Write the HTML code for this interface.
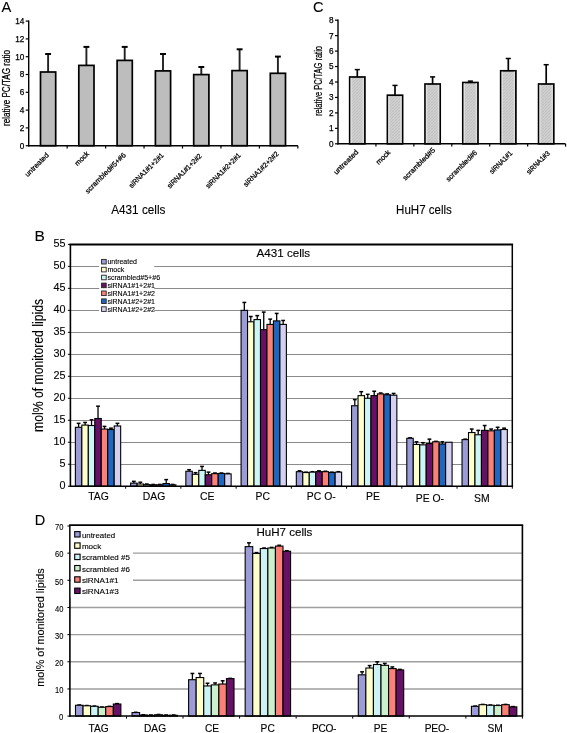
<!DOCTYPE html>
<html><head><meta charset="utf-8"><style>
html,body{margin:0;padding:0;background:#fff;}
svg{display:block;will-change:transform;}
text{font-family:"Liberation Sans", sans-serif;fill:#000;}
</style></head><body>
<svg width="567" height="733" viewBox="0 0 567 733">
<defs><pattern id="hatch" patternUnits="userSpaceOnUse" width="3" height="3"><rect width="3" height="3" fill="#cfcfcf"/><path d="M0,3 L3,0 M-1,1 L1,-1 M2,4 L4,2" stroke="#bcbcbc" stroke-width="0.7"/><path d="M0,0 L3,3 M-1,2 L1,4 M2,-1 L4,1" stroke="#c4c4c4" stroke-width="0.5"/></pattern></defs>
<rect x="0" y="0" width="567" height="733" fill="#fff"/>
<text x="1.6" y="11.8" font-size="14.7" text-anchor="start" stroke="#000" stroke-width="0.1">A</text>
<line x1="48.1" y1="72" x2="48.1" y2="53.7" stroke="#222" stroke-width="1.9"/>
<line x1="45.15" y1="54" x2="51.05" y2="54" stroke="#000" stroke-width="2"/>
<rect x="40.5" y="72" width="15.2" height="73.7" fill="#bdbdbd" stroke="#000" stroke-width="1.7"/>
<line x1="86.4" y1="65.4" x2="86.4" y2="46.6" stroke="#222" stroke-width="1.9"/>
<line x1="83.45" y1="46.9" x2="89.35" y2="46.9" stroke="#000" stroke-width="2"/>
<rect x="78.8" y="65.4" width="15.2" height="80.3" fill="#bdbdbd" stroke="#000" stroke-width="1.7"/>
<line x1="124.7" y1="60.4" x2="124.7" y2="46.6" stroke="#222" stroke-width="1.9"/>
<line x1="121.75" y1="46.9" x2="127.65" y2="46.9" stroke="#000" stroke-width="2"/>
<rect x="117.1" y="60.4" width="15.2" height="85.3" fill="#bdbdbd" stroke="#000" stroke-width="1.7"/>
<line x1="163" y1="70.9" x2="163" y2="53.7" stroke="#222" stroke-width="1.9"/>
<line x1="160.05" y1="54" x2="165.95" y2="54" stroke="#000" stroke-width="2"/>
<rect x="155.4" y="70.9" width="15.2" height="74.8" fill="#bdbdbd" stroke="#000" stroke-width="1.7"/>
<line x1="201.3" y1="74.6" x2="201.3" y2="66.7" stroke="#222" stroke-width="1.9"/>
<line x1="198.35" y1="67" x2="204.25" y2="67" stroke="#000" stroke-width="2"/>
<rect x="193.7" y="74.6" width="15.2" height="71.1" fill="#bdbdbd" stroke="#000" stroke-width="1.7"/>
<line x1="239.6" y1="70.6" x2="239.6" y2="49" stroke="#222" stroke-width="1.9"/>
<line x1="236.65" y1="49.3" x2="242.55" y2="49.3" stroke="#000" stroke-width="2"/>
<rect x="232" y="70.6" width="15.2" height="75.1" fill="#bdbdbd" stroke="#000" stroke-width="1.7"/>
<line x1="277.9" y1="73.3" x2="277.9" y2="56.3" stroke="#222" stroke-width="1.9"/>
<line x1="274.95" y1="56.6" x2="280.85" y2="56.6" stroke="#000" stroke-width="2"/>
<rect x="270.3" y="73.3" width="15.2" height="72.4" fill="#bdbdbd" stroke="#000" stroke-width="1.7"/>
<line x1="28.7" y1="20.5" x2="28.7" y2="146.5" stroke="#000" stroke-width="1.4"/>
<line x1="28" y1="145.7" x2="297.9" y2="145.7" stroke="#000" stroke-width="1.5"/>
<line x1="25.7" y1="145.7" x2="28.7" y2="145.7" stroke="#000" stroke-width="1.2"/>
<text x="24.4" y="148.6" font-size="8.2" text-anchor="end" stroke="#000" stroke-width="0.25">0</text>
<line x1="25.7" y1="127.9" x2="28.7" y2="127.9" stroke="#000" stroke-width="1.2"/>
<text x="24.4" y="130.8" font-size="8.2" text-anchor="end" stroke="#000" stroke-width="0.25">2</text>
<line x1="25.7" y1="110.1" x2="28.7" y2="110.1" stroke="#000" stroke-width="1.2"/>
<text x="24.4" y="113" font-size="8.2" text-anchor="end" stroke="#000" stroke-width="0.25">4</text>
<line x1="25.7" y1="92.3" x2="28.7" y2="92.3" stroke="#000" stroke-width="1.2"/>
<text x="24.4" y="95.2" font-size="8.2" text-anchor="end" stroke="#000" stroke-width="0.25">6</text>
<line x1="25.7" y1="74.5" x2="28.7" y2="74.5" stroke="#000" stroke-width="1.2"/>
<text x="24.4" y="77.4" font-size="8.2" text-anchor="end" stroke="#000" stroke-width="0.25">8</text>
<line x1="25.7" y1="56.7" x2="28.7" y2="56.7" stroke="#000" stroke-width="1.2"/>
<text x="24.4" y="59.6" font-size="8.2" text-anchor="end" stroke="#000" stroke-width="0.25">10</text>
<line x1="25.7" y1="38.9" x2="28.7" y2="38.9" stroke="#000" stroke-width="1.2"/>
<text x="24.4" y="41.8" font-size="8.2" text-anchor="end" stroke="#000" stroke-width="0.25">12</text>
<line x1="25.7" y1="21.1" x2="28.7" y2="21.1" stroke="#000" stroke-width="1.2"/>
<text x="24.4" y="24" font-size="8.2" text-anchor="end" stroke="#000" stroke-width="0.25">14</text>
<line x1="67.15" y1="145.7" x2="67.15" y2="148.5" stroke="#000" stroke-width="1.2"/>
<line x1="105.6" y1="145.7" x2="105.6" y2="148.5" stroke="#000" stroke-width="1.2"/>
<line x1="144.05" y1="145.7" x2="144.05" y2="148.5" stroke="#000" stroke-width="1.2"/>
<line x1="182.5" y1="145.7" x2="182.5" y2="148.5" stroke="#000" stroke-width="1.2"/>
<line x1="220.95" y1="145.7" x2="220.95" y2="148.5" stroke="#000" stroke-width="1.2"/>
<line x1="259.4" y1="145.7" x2="259.4" y2="148.5" stroke="#000" stroke-width="1.2"/>
<line x1="297.85" y1="145.7" x2="297.85" y2="148.5" stroke="#000" stroke-width="1.2"/>
<text transform="translate(49.25,155.75) rotate(-45)" font-size="7.2" text-anchor="end" textLength="30.48" lengthAdjust="spacingAndGlyphs" stroke="#000" stroke-width="0.25">untreated</text>
<text transform="translate(89.5,154.25) rotate(-45)" font-size="7.2" text-anchor="end" textLength="17.05" lengthAdjust="spacingAndGlyphs" stroke="#000" stroke-width="0.25">mock</text>
<text transform="translate(126.35,155.5) rotate(-45)" font-size="7.2" text-anchor="end" textLength="54.3" lengthAdjust="spacingAndGlyphs" stroke="#000" stroke-width="0.25">scrambled#5+#6</text>
<text transform="translate(164.25,155.85) rotate(-45)" font-size="7.2" text-anchor="end" textLength="46.12" lengthAdjust="spacingAndGlyphs" stroke="#000" stroke-width="0.25">siRNA1#1+2#1</text>
<text transform="translate(202.25,156.5) rotate(-45)" font-size="7.2" text-anchor="end" textLength="45.7" lengthAdjust="spacingAndGlyphs" stroke="#000" stroke-width="0.25">siRNA1#1+2#2</text>
<text transform="translate(241.3,155.85) rotate(-45)" font-size="7.2" text-anchor="end" textLength="46.46" lengthAdjust="spacingAndGlyphs" stroke="#000" stroke-width="0.25">siRNA1#2+2#1</text>
<text transform="translate(279.15,154.3) rotate(-45)" font-size="7.2" text-anchor="end" textLength="46.69" lengthAdjust="spacingAndGlyphs" stroke="#000" stroke-width="0.25">siRNA1#2+2#2</text>
<text transform="translate(9.6,88) rotate(-90)" font-size="10" text-anchor="middle" textLength="76" lengthAdjust="spacingAndGlyphs" stroke="#000" stroke-width="0.25">relative PC/TAG ratio</text>
<text x="111.2" y="214" font-size="11.9" text-anchor="start" textLength="54.2" lengthAdjust="spacingAndGlyphs" stroke="#000" stroke-width="0.1">A431 cells</text>
<text x="313" y="11.6" font-size="14.6" text-anchor="start" stroke="#000" stroke-width="0.1">C</text>
<line x1="357.3" y1="77" x2="357.3" y2="69.5" stroke="#000" stroke-width="1.7"/>
<line x1="354.75" y1="69.6" x2="359.85" y2="69.6" stroke="#000" stroke-width="1.5"/>
<rect x="349.7" y="77" width="15.2" height="66.8" fill="url(#hatch)" stroke="#000" stroke-width="1.7"/>
<rect x="350.55" y="77.85" width="1.3" height="65.95" fill="#e0e0e0"/>
<rect x="362.6" y="77.85" width="1.3" height="65.95" fill="#dedede"/>
<line x1="395" y1="95.2" x2="395" y2="85.3" stroke="#000" stroke-width="1.7"/>
<line x1="392.45" y1="85.4" x2="397.55" y2="85.4" stroke="#000" stroke-width="1.5"/>
<rect x="387.4" y="95.2" width="15.2" height="48.6" fill="url(#hatch)" stroke="#000" stroke-width="1.7"/>
<rect x="388.25" y="96.05" width="1.3" height="47.75" fill="#e0e0e0"/>
<rect x="400.3" y="96.05" width="1.3" height="47.75" fill="#dedede"/>
<line x1="432.6" y1="84" x2="432.6" y2="76.8" stroke="#000" stroke-width="1.7"/>
<line x1="430.05" y1="76.9" x2="435.15" y2="76.9" stroke="#000" stroke-width="1.5"/>
<rect x="425" y="84" width="15.2" height="59.8" fill="url(#hatch)" stroke="#000" stroke-width="1.7"/>
<rect x="425.85" y="84.85" width="1.3" height="58.95" fill="#e0e0e0"/>
<rect x="437.9" y="84.85" width="1.3" height="58.95" fill="#dedede"/>
<line x1="470.4" y1="82.5" x2="470.4" y2="81" stroke="#000" stroke-width="1.7"/>
<line x1="467.85" y1="81.1" x2="472.95" y2="81.1" stroke="#000" stroke-width="1.5"/>
<rect x="462.8" y="82.5" width="15.2" height="61.3" fill="url(#hatch)" stroke="#000" stroke-width="1.7"/>
<rect x="463.65" y="83.35" width="1.3" height="60.45" fill="#e0e0e0"/>
<rect x="475.7" y="83.35" width="1.3" height="60.45" fill="#dedede"/>
<line x1="508.3" y1="70.8" x2="508.3" y2="58.4" stroke="#000" stroke-width="1.7"/>
<line x1="505.75" y1="58.5" x2="510.85" y2="58.5" stroke="#000" stroke-width="1.5"/>
<rect x="500.7" y="70.8" width="15.2" height="73" fill="url(#hatch)" stroke="#000" stroke-width="1.7"/>
<rect x="501.55" y="71.65" width="1.3" height="72.15" fill="#e0e0e0"/>
<rect x="513.6" y="71.65" width="1.3" height="72.15" fill="#dedede"/>
<line x1="546.2" y1="84" x2="546.2" y2="64.6" stroke="#000" stroke-width="1.7"/>
<line x1="543.65" y1="64.7" x2="548.75" y2="64.7" stroke="#000" stroke-width="1.5"/>
<rect x="538.6" y="84" width="15.2" height="59.8" fill="url(#hatch)" stroke="#000" stroke-width="1.7"/>
<rect x="539.45" y="84.85" width="1.3" height="58.95" fill="#e0e0e0"/>
<rect x="551.5" y="84.85" width="1.3" height="58.95" fill="#dedede"/>
<line x1="338" y1="19.6" x2="338" y2="144.6" stroke="#000" stroke-width="1.4"/>
<line x1="337.3" y1="143.8" x2="565.5" y2="143.8" stroke="#000" stroke-width="1.5"/>
<line x1="335" y1="143.8" x2="338" y2="143.8" stroke="#000" stroke-width="1.2"/>
<text x="333.6" y="146.7" font-size="8.2" text-anchor="end" stroke="#000" stroke-width="0.25">0</text>
<line x1="335" y1="128.35" x2="338" y2="128.35" stroke="#000" stroke-width="1.2"/>
<text x="333.6" y="131.25" font-size="8.2" text-anchor="end" stroke="#000" stroke-width="0.25">1</text>
<line x1="335" y1="112.9" x2="338" y2="112.9" stroke="#000" stroke-width="1.2"/>
<text x="333.6" y="115.8" font-size="8.2" text-anchor="end" stroke="#000" stroke-width="0.25">2</text>
<line x1="335" y1="97.45" x2="338" y2="97.45" stroke="#000" stroke-width="1.2"/>
<text x="333.6" y="100.35" font-size="8.2" text-anchor="end" stroke="#000" stroke-width="0.25">3</text>
<line x1="335" y1="82" x2="338" y2="82" stroke="#000" stroke-width="1.2"/>
<text x="333.6" y="84.9" font-size="8.2" text-anchor="end" stroke="#000" stroke-width="0.25">4</text>
<line x1="335" y1="66.55" x2="338" y2="66.55" stroke="#000" stroke-width="1.2"/>
<text x="333.6" y="69.45" font-size="8.2" text-anchor="end" stroke="#000" stroke-width="0.25">5</text>
<line x1="335" y1="51.1" x2="338" y2="51.1" stroke="#000" stroke-width="1.2"/>
<text x="333.6" y="54" font-size="8.2" text-anchor="end" stroke="#000" stroke-width="0.25">6</text>
<line x1="335" y1="35.65" x2="338" y2="35.65" stroke="#000" stroke-width="1.2"/>
<text x="333.6" y="38.55" font-size="8.2" text-anchor="end" stroke="#000" stroke-width="0.25">7</text>
<line x1="335" y1="20.2" x2="338" y2="20.2" stroke="#000" stroke-width="1.2"/>
<text x="333.6" y="23.1" font-size="8.2" text-anchor="end" stroke="#000" stroke-width="0.25">8</text>
<line x1="375.93" y1="143.8" x2="375.93" y2="146.6" stroke="#000" stroke-width="1.2"/>
<line x1="413.86" y1="143.8" x2="413.86" y2="146.6" stroke="#000" stroke-width="1.2"/>
<line x1="451.79" y1="143.8" x2="451.79" y2="146.6" stroke="#000" stroke-width="1.2"/>
<line x1="489.72" y1="143.8" x2="489.72" y2="146.6" stroke="#000" stroke-width="1.2"/>
<line x1="527.65" y1="143.8" x2="527.65" y2="146.6" stroke="#000" stroke-width="1.2"/>
<line x1="565.58" y1="143.8" x2="565.58" y2="146.6" stroke="#000" stroke-width="1.2"/>
<text transform="translate(358.8,152.65) rotate(-45)" font-size="7.2" text-anchor="end" textLength="31.71" lengthAdjust="spacingAndGlyphs" stroke="#000" stroke-width="0.25">untreated</text>
<text transform="translate(390.9,152.85) rotate(-45)" font-size="7.2" text-anchor="end" textLength="17.34" lengthAdjust="spacingAndGlyphs" stroke="#000" stroke-width="0.25">mock</text>
<text transform="translate(435.65,150.65) rotate(-45)" font-size="7.2" text-anchor="end" textLength="42.61" lengthAdjust="spacingAndGlyphs" stroke="#000" stroke-width="0.25">scrambled#5</text>
<text transform="translate(477.55,153.2) rotate(-45)" font-size="7.2" text-anchor="end" textLength="40.86" lengthAdjust="spacingAndGlyphs" stroke="#000" stroke-width="0.25">scrambled#6</text>
<text transform="translate(512.85,153.8) rotate(-45)" font-size="7.2" text-anchor="end" textLength="29" lengthAdjust="spacingAndGlyphs" stroke="#000" stroke-width="0.25">siRNA1#1</text>
<text transform="translate(550.25,153.8) rotate(-45)" font-size="7.2" text-anchor="end" textLength="29.67" lengthAdjust="spacingAndGlyphs" stroke="#000" stroke-width="0.25">siRNA1#3</text>
<text transform="translate(321.7,81) rotate(-90)" font-size="10.5" text-anchor="middle" textLength="70" lengthAdjust="spacingAndGlyphs" stroke="#000" stroke-width="0.25">relative PC/TAG ratio</text>
<text x="396.1" y="214" font-size="11.9" text-anchor="start" textLength="55.8" lengthAdjust="spacingAndGlyphs" stroke="#000" stroke-width="0.1">HuH7 cells</text>
<text x="34.4" y="240.5" font-size="15.5" text-anchor="start" stroke="#000" stroke-width="0.1">B</text>
<line x1="70.4" y1="464.5" x2="512.3" y2="464.5" stroke="#8a8a8a" stroke-width="1"/>
<line x1="70.4" y1="442.5" x2="512.3" y2="442.5" stroke="#8a8a8a" stroke-width="1"/>
<line x1="70.4" y1="420.5" x2="512.3" y2="420.5" stroke="#8a8a8a" stroke-width="1"/>
<line x1="70.4" y1="398.5" x2="512.3" y2="398.5" stroke="#8a8a8a" stroke-width="1"/>
<line x1="70.4" y1="376.5" x2="512.3" y2="376.5" stroke="#8a8a8a" stroke-width="1"/>
<line x1="70.4" y1="354.5" x2="512.3" y2="354.5" stroke="#8a8a8a" stroke-width="1"/>
<line x1="70.4" y1="332.5" x2="512.3" y2="332.5" stroke="#8a8a8a" stroke-width="1"/>
<line x1="70.4" y1="310.5" x2="512.3" y2="310.5" stroke="#8a8a8a" stroke-width="1"/>
<line x1="70.4" y1="288.5" x2="512.3" y2="288.5" stroke="#8a8a8a" stroke-width="1"/>
<line x1="70.4" y1="266.5" x2="512.3" y2="266.5" stroke="#8a8a8a" stroke-width="1"/>
<line x1="78.6" y1="427.29" x2="78.6" y2="423.33" stroke="#000" stroke-width="1.3"/>
<line x1="76.7" y1="423.33" x2="80.5" y2="423.33" stroke="#000" stroke-width="1.5"/>
<rect x="75.37" y="427.29" width="6.47" height="58.91" fill="#9b9bd8" stroke="#000" stroke-width="1.1"/>
<line x1="85.08" y1="425.09" x2="85.08" y2="422.45" stroke="#000" stroke-width="1.3"/>
<line x1="83.18" y1="422.45" x2="86.98" y2="422.45" stroke="#000" stroke-width="1.5"/>
<rect x="81.84" y="425.09" width="6.47" height="61.11" fill="#ffffcc" stroke="#000" stroke-width="1.1"/>
<line x1="91.55" y1="425.53" x2="91.55" y2="419.81" stroke="#000" stroke-width="1.3"/>
<line x1="89.65" y1="419.81" x2="93.45" y2="419.81" stroke="#000" stroke-width="1.5"/>
<rect x="88.31" y="425.53" width="6.47" height="60.67" fill="#ccf6f6" stroke="#000" stroke-width="1.1"/>
<line x1="98.02" y1="418.5" x2="98.02" y2="406.19" stroke="#000" stroke-width="1.3"/>
<line x1="96.12" y1="406.19" x2="99.92" y2="406.19" stroke="#000" stroke-width="1.5"/>
<rect x="94.78" y="418.5" width="6.47" height="67.7" fill="#661166" stroke="#000" stroke-width="1.1"/>
<line x1="104.49" y1="429.05" x2="104.49" y2="426.41" stroke="#000" stroke-width="1.3"/>
<line x1="102.59" y1="426.41" x2="106.39" y2="426.41" stroke="#000" stroke-width="1.5"/>
<rect x="101.25" y="429.05" width="6.47" height="57.15" fill="#fa8078" stroke="#000" stroke-width="1.1"/>
<line x1="110.96" y1="429.49" x2="110.96" y2="428.17" stroke="#000" stroke-width="1.3"/>
<line x1="109.06" y1="428.17" x2="112.86" y2="428.17" stroke="#000" stroke-width="1.5"/>
<rect x="107.73" y="429.49" width="6.47" height="56.71" fill="#1f66c0" stroke="#000" stroke-width="1.1"/>
<line x1="117.43" y1="425.97" x2="117.43" y2="423.33" stroke="#000" stroke-width="1.3"/>
<line x1="115.53" y1="423.33" x2="119.33" y2="423.33" stroke="#000" stroke-width="1.5"/>
<rect x="114.2" y="425.97" width="6.47" height="60.23" fill="#d4d0f0" stroke="#000" stroke-width="1.1"/>
<line x1="133.84" y1="483.12" x2="133.84" y2="481.36" stroke="#000" stroke-width="1.3"/>
<line x1="131.94" y1="481.36" x2="135.74" y2="481.36" stroke="#000" stroke-width="1.5"/>
<rect x="130.61" y="483.12" width="6.47" height="3.08" fill="#9b9bd8" stroke="#000" stroke-width="1.1"/>
<line x1="140.31" y1="484" x2="140.31" y2="482.24" stroke="#000" stroke-width="1.3"/>
<line x1="138.41" y1="482.24" x2="142.21" y2="482.24" stroke="#000" stroke-width="1.5"/>
<rect x="137.08" y="484" width="6.47" height="2.2" fill="#ffffcc" stroke="#000" stroke-width="1.1"/>
<line x1="146.78" y1="484.66" x2="146.78" y2="484" stroke="#000" stroke-width="1.3"/>
<line x1="144.88" y1="484" x2="148.68" y2="484" stroke="#000" stroke-width="1.5"/>
<rect x="143.55" y="484.66" width="6.47" height="1.54" fill="#ccf6f6" stroke="#000" stroke-width="1.1"/>
<line x1="153.26" y1="484.88" x2="153.26" y2="484.44" stroke="#000" stroke-width="1.3"/>
<line x1="151.36" y1="484.44" x2="155.16" y2="484.44" stroke="#000" stroke-width="1.5"/>
<rect x="150.02" y="484.88" width="6.47" height="1.32" fill="#661166" stroke="#000" stroke-width="1.1"/>
<line x1="159.73" y1="484.88" x2="159.73" y2="484.44" stroke="#000" stroke-width="1.3"/>
<line x1="157.83" y1="484.44" x2="161.63" y2="484.44" stroke="#000" stroke-width="1.5"/>
<rect x="156.49" y="484.88" width="6.47" height="1.32" fill="#fa8078" stroke="#000" stroke-width="1.1"/>
<line x1="166.2" y1="483.56" x2="166.2" y2="479.61" stroke="#000" stroke-width="1.3"/>
<line x1="164.3" y1="479.61" x2="168.1" y2="479.61" stroke="#000" stroke-width="1.5"/>
<rect x="162.96" y="483.56" width="6.47" height="2.64" fill="#1f66c0" stroke="#000" stroke-width="1.1"/>
<line x1="172.67" y1="484.88" x2="172.67" y2="484.44" stroke="#000" stroke-width="1.3"/>
<line x1="170.77" y1="484.44" x2="174.57" y2="484.44" stroke="#000" stroke-width="1.5"/>
<rect x="169.43" y="484.88" width="6.47" height="1.32" fill="#d4d0f0" stroke="#000" stroke-width="1.1"/>
<line x1="189.08" y1="471.25" x2="189.08" y2="469.71" stroke="#000" stroke-width="1.3"/>
<line x1="187.18" y1="469.71" x2="190.98" y2="469.71" stroke="#000" stroke-width="1.5"/>
<rect x="185.84" y="471.25" width="6.47" height="14.95" fill="#9b9bd8" stroke="#000" stroke-width="1.1"/>
<line x1="195.55" y1="474.33" x2="195.55" y2="472.7" stroke="#000" stroke-width="1.3"/>
<line x1="193.65" y1="472.7" x2="197.45" y2="472.7" stroke="#000" stroke-width="1.5"/>
<rect x="192.32" y="474.33" width="6.47" height="11.87" fill="#ffffcc" stroke="#000" stroke-width="1.1"/>
<line x1="202.02" y1="470.37" x2="202.02" y2="466.42" stroke="#000" stroke-width="1.3"/>
<line x1="200.12" y1="466.42" x2="203.92" y2="466.42" stroke="#000" stroke-width="1.5"/>
<rect x="198.79" y="470.37" width="6.47" height="15.83" fill="#ccf6f6" stroke="#000" stroke-width="1.1"/>
<line x1="208.49" y1="474.77" x2="208.49" y2="472.13" stroke="#000" stroke-width="1.3"/>
<line x1="206.59" y1="472.13" x2="210.39" y2="472.13" stroke="#000" stroke-width="1.5"/>
<rect x="205.26" y="474.77" width="6.47" height="11.43" fill="#661166" stroke="#000" stroke-width="1.1"/>
<line x1="214.97" y1="473.67" x2="214.97" y2="473.01" stroke="#000" stroke-width="1.3"/>
<line x1="213.07" y1="473.01" x2="216.87" y2="473.01" stroke="#000" stroke-width="1.5"/>
<rect x="211.73" y="473.67" width="6.47" height="12.53" fill="#fa8078" stroke="#000" stroke-width="1.1"/>
<line x1="221.44" y1="473.45" x2="221.44" y2="473.01" stroke="#000" stroke-width="1.3"/>
<line x1="219.54" y1="473.01" x2="223.34" y2="473.01" stroke="#000" stroke-width="1.5"/>
<rect x="218.2" y="473.45" width="6.47" height="12.75" fill="#1f66c0" stroke="#000" stroke-width="1.1"/>
<line x1="227.91" y1="473.89" x2="227.91" y2="473.45" stroke="#000" stroke-width="1.3"/>
<line x1="226.01" y1="473.45" x2="229.81" y2="473.45" stroke="#000" stroke-width="1.5"/>
<rect x="224.67" y="473.89" width="6.47" height="12.31" fill="#d4d0f0" stroke="#000" stroke-width="1.1"/>
<line x1="244.32" y1="310.35" x2="244.32" y2="302.43" stroke="#000" stroke-width="1.3"/>
<line x1="242.42" y1="302.43" x2="246.22" y2="302.43" stroke="#000" stroke-width="1.5"/>
<rect x="241.08" y="310.35" width="6.47" height="175.85" fill="#9b9bd8" stroke="#000" stroke-width="1.1"/>
<line x1="250.79" y1="321.78" x2="250.79" y2="316.5" stroke="#000" stroke-width="1.3"/>
<line x1="248.89" y1="316.5" x2="252.69" y2="316.5" stroke="#000" stroke-width="1.5"/>
<rect x="247.55" y="321.78" width="6.47" height="164.42" fill="#ffffcc" stroke="#000" stroke-width="1.1"/>
<line x1="257.26" y1="319.58" x2="257.26" y2="315.62" stroke="#000" stroke-width="1.3"/>
<line x1="255.36" y1="315.62" x2="259.16" y2="315.62" stroke="#000" stroke-width="1.5"/>
<rect x="254.02" y="319.58" width="6.47" height="166.62" fill="#ccf6f6" stroke="#000" stroke-width="1.1"/>
<line x1="263.73" y1="329.69" x2="263.73" y2="312.1" stroke="#000" stroke-width="1.3"/>
<line x1="261.83" y1="312.1" x2="265.63" y2="312.1" stroke="#000" stroke-width="1.5"/>
<rect x="260.5" y="329.69" width="6.47" height="156.51" fill="#661166" stroke="#000" stroke-width="1.1"/>
<line x1="270.2" y1="324.41" x2="270.2" y2="319.14" stroke="#000" stroke-width="1.3"/>
<line x1="268.3" y1="319.14" x2="272.1" y2="319.14" stroke="#000" stroke-width="1.5"/>
<rect x="266.97" y="324.41" width="6.47" height="161.79" fill="#fa8078" stroke="#000" stroke-width="1.1"/>
<line x1="276.67" y1="320.9" x2="276.67" y2="313.42" stroke="#000" stroke-width="1.3"/>
<line x1="274.77" y1="313.42" x2="278.57" y2="313.42" stroke="#000" stroke-width="1.5"/>
<rect x="273.44" y="320.9" width="6.47" height="165.3" fill="#1f66c0" stroke="#000" stroke-width="1.1"/>
<line x1="283.15" y1="324.41" x2="283.15" y2="320.46" stroke="#000" stroke-width="1.3"/>
<line x1="281.25" y1="320.46" x2="285.05" y2="320.46" stroke="#000" stroke-width="1.5"/>
<rect x="279.91" y="324.41" width="6.47" height="161.79" fill="#d4d0f0" stroke="#000" stroke-width="1.1"/>
<line x1="299.55" y1="471.69" x2="299.55" y2="470.81" stroke="#000" stroke-width="1.3"/>
<line x1="297.65" y1="470.81" x2="301.45" y2="470.81" stroke="#000" stroke-width="1.5"/>
<rect x="296.32" y="471.69" width="6.47" height="14.51" fill="#9b9bd8" stroke="#000" stroke-width="1.1"/>
<line x1="306.03" y1="472.57" x2="306.03" y2="472.13" stroke="#000" stroke-width="1.3"/>
<line x1="304.13" y1="472.13" x2="307.93" y2="472.13" stroke="#000" stroke-width="1.5"/>
<rect x="302.79" y="472.57" width="6.47" height="13.63" fill="#ffffcc" stroke="#000" stroke-width="1.1"/>
<line x1="312.5" y1="472.13" x2="312.5" y2="471.69" stroke="#000" stroke-width="1.3"/>
<line x1="310.6" y1="471.69" x2="314.4" y2="471.69" stroke="#000" stroke-width="1.5"/>
<rect x="309.26" y="472.13" width="6.47" height="14.07" fill="#ccf6f6" stroke="#000" stroke-width="1.1"/>
<line x1="318.97" y1="471.69" x2="318.97" y2="470.81" stroke="#000" stroke-width="1.3"/>
<line x1="317.07" y1="470.81" x2="320.87" y2="470.81" stroke="#000" stroke-width="1.5"/>
<rect x="315.73" y="471.69" width="6.47" height="14.51" fill="#661166" stroke="#000" stroke-width="1.1"/>
<line x1="325.44" y1="471.69" x2="325.44" y2="471.25" stroke="#000" stroke-width="1.3"/>
<line x1="323.54" y1="471.25" x2="327.34" y2="471.25" stroke="#000" stroke-width="1.5"/>
<rect x="322.2" y="471.69" width="6.47" height="14.51" fill="#fa8078" stroke="#000" stroke-width="1.1"/>
<line x1="331.91" y1="472.57" x2="331.91" y2="472.13" stroke="#000" stroke-width="1.3"/>
<line x1="330.01" y1="472.13" x2="333.81" y2="472.13" stroke="#000" stroke-width="1.5"/>
<rect x="328.68" y="472.57" width="6.47" height="13.63" fill="#1f66c0" stroke="#000" stroke-width="1.1"/>
<line x1="338.38" y1="472.13" x2="338.38" y2="471.69" stroke="#000" stroke-width="1.3"/>
<line x1="336.48" y1="471.69" x2="340.28" y2="471.69" stroke="#000" stroke-width="1.5"/>
<rect x="335.15" y="472.13" width="6.47" height="14.07" fill="#d4d0f0" stroke="#000" stroke-width="1.1"/>
<line x1="354.79" y1="405.75" x2="354.79" y2="399.59" stroke="#000" stroke-width="1.3"/>
<line x1="352.89" y1="399.59" x2="356.69" y2="399.59" stroke="#000" stroke-width="1.5"/>
<rect x="351.56" y="405.75" width="6.47" height="80.45" fill="#9b9bd8" stroke="#000" stroke-width="1.1"/>
<line x1="361.26" y1="395.63" x2="361.26" y2="391.68" stroke="#000" stroke-width="1.3"/>
<line x1="359.36" y1="391.68" x2="363.16" y2="391.68" stroke="#000" stroke-width="1.5"/>
<rect x="358.03" y="395.63" width="6.47" height="90.57" fill="#ffffcc" stroke="#000" stroke-width="1.1"/>
<line x1="367.73" y1="398.27" x2="367.73" y2="394.32" stroke="#000" stroke-width="1.3"/>
<line x1="365.83" y1="394.32" x2="369.63" y2="394.32" stroke="#000" stroke-width="1.5"/>
<rect x="364.5" y="398.27" width="6.47" height="87.93" fill="#ccf6f6" stroke="#000" stroke-width="1.1"/>
<line x1="374.21" y1="395.63" x2="374.21" y2="391.24" stroke="#000" stroke-width="1.3"/>
<line x1="372.31" y1="391.24" x2="376.11" y2="391.24" stroke="#000" stroke-width="1.5"/>
<rect x="370.97" y="395.63" width="6.47" height="90.57" fill="#661166" stroke="#000" stroke-width="1.1"/>
<line x1="380.68" y1="393.88" x2="380.68" y2="393" stroke="#000" stroke-width="1.3"/>
<line x1="378.78" y1="393" x2="382.58" y2="393" stroke="#000" stroke-width="1.5"/>
<rect x="377.44" y="393.88" width="6.47" height="92.32" fill="#fa8078" stroke="#000" stroke-width="1.1"/>
<line x1="387.15" y1="394.76" x2="387.15" y2="393.88" stroke="#000" stroke-width="1.3"/>
<line x1="385.25" y1="393.88" x2="389.05" y2="393.88" stroke="#000" stroke-width="1.5"/>
<rect x="383.91" y="394.76" width="6.47" height="91.44" fill="#1f66c0" stroke="#000" stroke-width="1.1"/>
<line x1="393.62" y1="395.2" x2="393.62" y2="393.44" stroke="#000" stroke-width="1.3"/>
<line x1="391.72" y1="393.44" x2="395.52" y2="393.44" stroke="#000" stroke-width="1.5"/>
<rect x="390.38" y="395.2" width="6.47" height="91" fill="#d4d0f0" stroke="#000" stroke-width="1.1"/>
<line x1="410.03" y1="438.28" x2="410.03" y2="437.84" stroke="#000" stroke-width="1.3"/>
<line x1="408.13" y1="437.84" x2="411.93" y2="437.84" stroke="#000" stroke-width="1.5"/>
<rect x="406.79" y="438.28" width="6.47" height="47.92" fill="#9b9bd8" stroke="#000" stroke-width="1.1"/>
<line x1="416.5" y1="444.43" x2="416.5" y2="441.8" stroke="#000" stroke-width="1.3"/>
<line x1="414.6" y1="441.8" x2="418.4" y2="441.8" stroke="#000" stroke-width="1.5"/>
<rect x="413.27" y="444.43" width="6.47" height="41.77" fill="#ffffcc" stroke="#000" stroke-width="1.1"/>
<line x1="422.97" y1="444.87" x2="422.97" y2="442.68" stroke="#000" stroke-width="1.3"/>
<line x1="421.07" y1="442.68" x2="424.87" y2="442.68" stroke="#000" stroke-width="1.5"/>
<rect x="419.74" y="444.87" width="6.47" height="41.33" fill="#ccf6f6" stroke="#000" stroke-width="1.1"/>
<line x1="429.44" y1="443.56" x2="429.44" y2="439.16" stroke="#000" stroke-width="1.3"/>
<line x1="427.54" y1="439.16" x2="431.34" y2="439.16" stroke="#000" stroke-width="1.5"/>
<rect x="426.21" y="443.56" width="6.47" height="42.64" fill="#661166" stroke="#000" stroke-width="1.1"/>
<line x1="435.92" y1="441.8" x2="435.92" y2="441.36" stroke="#000" stroke-width="1.3"/>
<line x1="434.02" y1="441.36" x2="437.82" y2="441.36" stroke="#000" stroke-width="1.5"/>
<rect x="432.68" y="441.8" width="6.47" height="44.4" fill="#fa8078" stroke="#000" stroke-width="1.1"/>
<line x1="442.39" y1="443.99" x2="442.39" y2="441.8" stroke="#000" stroke-width="1.3"/>
<line x1="440.49" y1="441.8" x2="444.29" y2="441.8" stroke="#000" stroke-width="1.5"/>
<rect x="439.15" y="443.99" width="6.47" height="42.21" fill="#1f66c0" stroke="#000" stroke-width="1.1"/>
<rect x="445.62" y="442.24" width="6.47" height="43.96" fill="#d4d0f0" stroke="#000" stroke-width="1.1"/>
<line x1="465.27" y1="439.6" x2="465.27" y2="439.16" stroke="#000" stroke-width="1.3"/>
<line x1="463.37" y1="439.16" x2="467.17" y2="439.16" stroke="#000" stroke-width="1.5"/>
<rect x="462.03" y="439.6" width="6.47" height="46.6" fill="#9b9bd8" stroke="#000" stroke-width="1.1"/>
<line x1="471.74" y1="432.56" x2="471.74" y2="429.05" stroke="#000" stroke-width="1.3"/>
<line x1="469.84" y1="429.05" x2="473.64" y2="429.05" stroke="#000" stroke-width="1.5"/>
<rect x="468.5" y="432.56" width="6.47" height="53.64" fill="#ffffcc" stroke="#000" stroke-width="1.1"/>
<line x1="478.21" y1="434.76" x2="478.21" y2="430.37" stroke="#000" stroke-width="1.3"/>
<line x1="476.31" y1="430.37" x2="480.11" y2="430.37" stroke="#000" stroke-width="1.5"/>
<rect x="474.97" y="434.76" width="6.47" height="51.44" fill="#ccf6f6" stroke="#000" stroke-width="1.1"/>
<line x1="484.68" y1="430.37" x2="484.68" y2="425.53" stroke="#000" stroke-width="1.3"/>
<line x1="482.78" y1="425.53" x2="486.58" y2="425.53" stroke="#000" stroke-width="1.5"/>
<rect x="481.45" y="430.37" width="6.47" height="55.83" fill="#661166" stroke="#000" stroke-width="1.1"/>
<line x1="491.15" y1="430.81" x2="491.15" y2="429.05" stroke="#000" stroke-width="1.3"/>
<line x1="489.25" y1="429.05" x2="493.05" y2="429.05" stroke="#000" stroke-width="1.5"/>
<rect x="487.92" y="430.81" width="6.47" height="55.39" fill="#fa8078" stroke="#000" stroke-width="1.1"/>
<line x1="497.62" y1="429.93" x2="497.62" y2="427.29" stroke="#000" stroke-width="1.3"/>
<line x1="495.72" y1="427.29" x2="499.52" y2="427.29" stroke="#000" stroke-width="1.5"/>
<rect x="494.39" y="429.93" width="6.47" height="56.27" fill="#1f66c0" stroke="#000" stroke-width="1.1"/>
<line x1="504.1" y1="429.49" x2="504.1" y2="428.17" stroke="#000" stroke-width="1.3"/>
<line x1="502.2" y1="428.17" x2="506" y2="428.17" stroke="#000" stroke-width="1.5"/>
<rect x="500.86" y="429.49" width="6.47" height="56.71" fill="#d4d0f0" stroke="#000" stroke-width="1.1"/>
<line x1="70.4" y1="244.4" x2="70.4" y2="487" stroke="#000" stroke-width="1.6"/>
<line x1="69.6" y1="244.4" x2="513.1" y2="244.4" stroke="#000" stroke-width="2"/>
<line x1="512.3" y1="244.4" x2="512.3" y2="486.2" stroke="#000" stroke-width="1.5"/>
<line x1="70.4" y1="486.2" x2="513.1" y2="486.2" stroke="#000" stroke-width="1.5"/>
<line x1="67.9" y1="486.2" x2="70.4" y2="486.2" stroke="#000" stroke-width="1"/>
<text x="65.6" y="489.2" font-size="10.8" text-anchor="end" stroke="#000" stroke-width="0.12">0</text>
<line x1="67.9" y1="464.22" x2="70.4" y2="464.22" stroke="#000" stroke-width="1"/>
<text x="65.6" y="467.22" font-size="10.8" text-anchor="end" stroke="#000" stroke-width="0.12">5</text>
<line x1="67.9" y1="442.24" x2="70.4" y2="442.24" stroke="#000" stroke-width="1"/>
<text x="65.6" y="445.24" font-size="10.8" text-anchor="end" stroke="#000" stroke-width="0.12">10</text>
<line x1="67.9" y1="420.25" x2="70.4" y2="420.25" stroke="#000" stroke-width="1"/>
<text x="65.6" y="423.25" font-size="10.8" text-anchor="end" stroke="#000" stroke-width="0.12">15</text>
<line x1="67.9" y1="398.27" x2="70.4" y2="398.27" stroke="#000" stroke-width="1"/>
<text x="65.6" y="401.27" font-size="10.8" text-anchor="end" stroke="#000" stroke-width="0.12">20</text>
<line x1="67.9" y1="376.29" x2="70.4" y2="376.29" stroke="#000" stroke-width="1"/>
<text x="65.6" y="379.29" font-size="10.8" text-anchor="end" stroke="#000" stroke-width="0.12">25</text>
<line x1="67.9" y1="354.31" x2="70.4" y2="354.31" stroke="#000" stroke-width="1"/>
<text x="65.6" y="357.31" font-size="10.8" text-anchor="end" stroke="#000" stroke-width="0.12">30</text>
<line x1="67.9" y1="332.33" x2="70.4" y2="332.33" stroke="#000" stroke-width="1"/>
<text x="65.6" y="335.33" font-size="10.8" text-anchor="end" stroke="#000" stroke-width="0.12">35</text>
<line x1="67.9" y1="310.35" x2="70.4" y2="310.35" stroke="#000" stroke-width="1"/>
<text x="65.6" y="313.35" font-size="10.8" text-anchor="end" stroke="#000" stroke-width="0.12">40</text>
<line x1="67.9" y1="288.36" x2="70.4" y2="288.36" stroke="#000" stroke-width="1"/>
<text x="65.6" y="291.36" font-size="10.8" text-anchor="end" stroke="#000" stroke-width="0.12">45</text>
<line x1="67.9" y1="266.38" x2="70.4" y2="266.38" stroke="#000" stroke-width="1"/>
<text x="65.6" y="269.38" font-size="10.8" text-anchor="end" stroke="#000" stroke-width="0.12">50</text>
<line x1="67.9" y1="244.4" x2="70.4" y2="244.4" stroke="#000" stroke-width="1"/>
<text x="65.6" y="247.4" font-size="10.8" text-anchor="end" stroke="#000" stroke-width="0.12">55</text>
<line x1="125.64" y1="486.2" x2="125.64" y2="488.7" stroke="#000" stroke-width="1"/>
<line x1="180.88" y1="486.2" x2="180.88" y2="488.7" stroke="#000" stroke-width="1"/>
<line x1="236.11" y1="486.2" x2="236.11" y2="488.7" stroke="#000" stroke-width="1"/>
<line x1="291.35" y1="486.2" x2="291.35" y2="488.7" stroke="#000" stroke-width="1"/>
<line x1="346.59" y1="486.2" x2="346.59" y2="488.7" stroke="#000" stroke-width="1"/>
<line x1="401.82" y1="486.2" x2="401.82" y2="488.7" stroke="#000" stroke-width="1"/>
<line x1="457.06" y1="486.2" x2="457.06" y2="488.7" stroke="#000" stroke-width="1"/>
<line x1="512.3" y1="486.2" x2="512.3" y2="488.7" stroke="#000" stroke-width="1"/>
<text x="98.5" y="499.7" font-size="10.4" text-anchor="middle" stroke="#000" stroke-width="0.12">TAG</text>
<text x="154" y="499.7" font-size="10.4" text-anchor="middle" stroke="#000" stroke-width="0.12">DAG</text>
<text x="207.2" y="499.7" font-size="10.4" text-anchor="middle" stroke="#000" stroke-width="0.12">CE</text>
<text x="262.75" y="499.7" font-size="10.4" text-anchor="middle" stroke="#000" stroke-width="0.12">PC</text>
<text x="321.3" y="499.7" font-size="10.4" text-anchor="middle" stroke="#000" stroke-width="0.12">PC O-</text>
<text x="373.05" y="499.7" font-size="10.4" text-anchor="middle" stroke="#000" stroke-width="0.12">PE</text>
<text x="429.9" y="502" font-size="10.4" text-anchor="middle" stroke="#000" stroke-width="0.12">PE O-</text>
<text x="481.85" y="502" font-size="10.4" text-anchor="middle" stroke="#000" stroke-width="0.12">SM</text>
<rect x="99.2" y="256" width="55" height="57.5" fill="#fff"/>
<rect x="101.6" y="259.4" width="4.6" height="4.6" fill="#9b9bd8" stroke="#222" stroke-width="0.9"/>
<text x="107.4" y="264.2" font-size="7.6" text-anchor="start" textLength="29.6" lengthAdjust="spacingAndGlyphs" stroke="#000" stroke-width="0.12">untreated</text>
<rect x="101.6" y="267.3" width="4.6" height="4.6" fill="#ffffcc" stroke="#222" stroke-width="0.9"/>
<text x="107.4" y="272.1" font-size="7.6" text-anchor="start" textLength="17" lengthAdjust="spacingAndGlyphs" stroke="#000" stroke-width="0.12">mock</text>
<rect x="101.6" y="275.2" width="4.6" height="4.6" fill="#ccf6f6" stroke="#222" stroke-width="0.9"/>
<text x="107.4" y="280" font-size="7.6" text-anchor="start" textLength="52.8" lengthAdjust="spacingAndGlyphs" stroke="#000" stroke-width="0.12">scrambled#5+#6</text>
<rect x="101.6" y="283.1" width="4.6" height="4.6" fill="#661166" stroke="#222" stroke-width="0.9"/>
<text x="107.4" y="287.9" font-size="7.6" text-anchor="start" textLength="47.6" lengthAdjust="spacingAndGlyphs" stroke="#000" stroke-width="0.12">siRNA1#1+2#1</text>
<rect x="101.6" y="291" width="4.6" height="4.6" fill="#fa8078" stroke="#222" stroke-width="0.9"/>
<text x="107.4" y="295.8" font-size="7.6" text-anchor="start" textLength="47.6" lengthAdjust="spacingAndGlyphs" stroke="#000" stroke-width="0.12">siRNA1#1+2#2</text>
<rect x="101.6" y="298.9" width="4.6" height="4.6" fill="#1f66c0" stroke="#222" stroke-width="0.9"/>
<text x="107.4" y="303.7" font-size="7.6" text-anchor="start" textLength="47.6" lengthAdjust="spacingAndGlyphs" stroke="#000" stroke-width="0.12">siRNA1#2+2#1</text>
<rect x="101.6" y="306.8" width="4.6" height="4.6" fill="#d4d0f0" stroke="#222" stroke-width="0.9"/>
<text x="107.4" y="311.6" font-size="7.6" text-anchor="start" textLength="47.6" lengthAdjust="spacingAndGlyphs" stroke="#000" stroke-width="0.12">siRNA1#2+2#2</text>
<text x="256.5" y="257.4" font-size="11.2" text-anchor="start" textLength="53.7" lengthAdjust="spacingAndGlyphs" stroke="#000" stroke-width="0.12">A431 cells</text>
<text transform="translate(43.2,365.4) rotate(-90)" font-size="14" text-anchor="middle" textLength="133" lengthAdjust="spacingAndGlyphs" stroke="#000" stroke-width="0.12">mol% of monitored lipids</text>
<text x="34.8" y="524.8" font-size="14.5" text-anchor="start" stroke="#000" stroke-width="0.1">D</text>
<line x1="69.9" y1="688.94" x2="522.4" y2="688.94" stroke="#9e9e9e" stroke-width="1.4"/>
<line x1="69.9" y1="661.79" x2="522.4" y2="661.79" stroke="#9e9e9e" stroke-width="1.4"/>
<line x1="69.9" y1="634.63" x2="522.4" y2="634.63" stroke="#9e9e9e" stroke-width="1.4"/>
<line x1="69.9" y1="607.47" x2="522.4" y2="607.47" stroke="#9e9e9e" stroke-width="1.4"/>
<line x1="69.9" y1="580.31" x2="522.4" y2="580.31" stroke="#9e9e9e" stroke-width="1.4"/>
<line x1="69.9" y1="553.16" x2="522.4" y2="553.16" stroke="#9e9e9e" stroke-width="1.4"/>
<line x1="79.26" y1="705.26" x2="79.26" y2="704.97" stroke="#000" stroke-width="1.3"/>
<line x1="77.36" y1="704.97" x2="81.16" y2="704.97" stroke="#000" stroke-width="1.5"/>
<rect x="75.48" y="705.26" width="7.57" height="10.84" fill="#9b9bd8" stroke="#000" stroke-width="1.1"/>
<line x1="86.83" y1="705.78" x2="86.83" y2="705.51" stroke="#000" stroke-width="1.3"/>
<line x1="84.93" y1="705.51" x2="88.73" y2="705.51" stroke="#000" stroke-width="1.5"/>
<rect x="83.05" y="705.78" width="7.57" height="10.32" fill="#ffffcc" stroke="#000" stroke-width="1.1"/>
<line x1="94.4" y1="706.32" x2="94.4" y2="706.05" stroke="#000" stroke-width="1.3"/>
<line x1="92.5" y1="706.05" x2="96.3" y2="706.05" stroke="#000" stroke-width="1.5"/>
<rect x="90.61" y="706.32" width="7.57" height="9.78" fill="#ccf2f6" stroke="#000" stroke-width="1.1"/>
<line x1="101.96" y1="707.27" x2="101.96" y2="707" stroke="#000" stroke-width="1.3"/>
<line x1="100.06" y1="707" x2="103.86" y2="707" stroke="#000" stroke-width="1.5"/>
<rect x="98.18" y="707.27" width="7.57" height="8.83" fill="#ccf0cc" stroke="#000" stroke-width="1.1"/>
<line x1="109.53" y1="706.6" x2="109.53" y2="706.32" stroke="#000" stroke-width="1.3"/>
<line x1="107.63" y1="706.32" x2="111.43" y2="706.32" stroke="#000" stroke-width="1.5"/>
<rect x="105.75" y="706.6" width="7.57" height="9.5" fill="#fa8078" stroke="#000" stroke-width="1.1"/>
<line x1="117.1" y1="704.02" x2="117.1" y2="703.61" stroke="#000" stroke-width="1.3"/>
<line x1="115.2" y1="703.61" x2="119" y2="703.61" stroke="#000" stroke-width="1.5"/>
<rect x="113.31" y="704.02" width="7.57" height="12.08" fill="#661166" stroke="#000" stroke-width="1.1"/>
<line x1="135.83" y1="712.57" x2="135.83" y2="712.3" stroke="#000" stroke-width="1.3"/>
<line x1="133.93" y1="712.3" x2="137.73" y2="712.3" stroke="#000" stroke-width="1.5"/>
<rect x="132.04" y="712.57" width="7.57" height="3.53" fill="#9b9bd8" stroke="#000" stroke-width="1.1"/>
<line x1="143.39" y1="715.01" x2="143.39" y2="714.74" stroke="#000" stroke-width="1.3"/>
<line x1="141.49" y1="714.74" x2="145.29" y2="714.74" stroke="#000" stroke-width="1.5"/>
<rect x="139.61" y="715.01" width="7.57" height="1.09" fill="#ffffcc" stroke="#000" stroke-width="1.1"/>
<line x1="150.96" y1="715.29" x2="150.96" y2="715.01" stroke="#000" stroke-width="1.3"/>
<line x1="149.06" y1="715.01" x2="152.86" y2="715.01" stroke="#000" stroke-width="1.5"/>
<rect x="147.18" y="715.29" width="7.57" height="0.81" fill="#ccf2f6" stroke="#000" stroke-width="1.1"/>
<line x1="158.53" y1="714.74" x2="158.53" y2="714.47" stroke="#000" stroke-width="1.3"/>
<line x1="156.63" y1="714.47" x2="160.43" y2="714.47" stroke="#000" stroke-width="1.5"/>
<rect x="154.74" y="714.74" width="7.57" height="1.36" fill="#ccf0cc" stroke="#000" stroke-width="1.1"/>
<line x1="166.09" y1="715.29" x2="166.09" y2="715.01" stroke="#000" stroke-width="1.3"/>
<line x1="164.19" y1="715.01" x2="167.99" y2="715.01" stroke="#000" stroke-width="1.5"/>
<rect x="162.31" y="715.29" width="7.57" height="0.81" fill="#fa8078" stroke="#000" stroke-width="1.1"/>
<line x1="173.66" y1="715.29" x2="173.66" y2="715.01" stroke="#000" stroke-width="1.3"/>
<line x1="171.76" y1="715.01" x2="175.56" y2="715.01" stroke="#000" stroke-width="1.5"/>
<rect x="169.88" y="715.29" width="7.57" height="0.81" fill="#661166" stroke="#000" stroke-width="1.1"/>
<line x1="192.39" y1="679.71" x2="192.39" y2="673.46" stroke="#000" stroke-width="1.3"/>
<line x1="190.49" y1="673.46" x2="194.29" y2="673.46" stroke="#000" stroke-width="1.5"/>
<rect x="188.61" y="679.71" width="7.57" height="36.39" fill="#9b9bd8" stroke="#000" stroke-width="1.1"/>
<line x1="199.96" y1="677.54" x2="199.96" y2="673.46" stroke="#000" stroke-width="1.3"/>
<line x1="198.06" y1="673.46" x2="201.86" y2="673.46" stroke="#000" stroke-width="1.5"/>
<rect x="196.17" y="677.54" width="7.57" height="38.56" fill="#ffffcc" stroke="#000" stroke-width="1.1"/>
<line x1="207.52" y1="685.96" x2="207.52" y2="683.24" stroke="#000" stroke-width="1.3"/>
<line x1="205.62" y1="683.24" x2="209.42" y2="683.24" stroke="#000" stroke-width="1.5"/>
<rect x="203.74" y="685.96" width="7.57" height="30.14" fill="#ccf2f6" stroke="#000" stroke-width="1.1"/>
<line x1="215.09" y1="684.87" x2="215.09" y2="682.97" stroke="#000" stroke-width="1.3"/>
<line x1="213.19" y1="682.97" x2="216.99" y2="682.97" stroke="#000" stroke-width="1.5"/>
<rect x="211.31" y="684.87" width="7.57" height="31.23" fill="#ccf0cc" stroke="#000" stroke-width="1.1"/>
<line x1="222.66" y1="684.05" x2="222.66" y2="680.8" stroke="#000" stroke-width="1.3"/>
<line x1="220.76" y1="680.8" x2="224.56" y2="680.8" stroke="#000" stroke-width="1.5"/>
<rect x="218.87" y="684.05" width="7.57" height="32.05" fill="#fa8078" stroke="#000" stroke-width="1.1"/>
<line x1="230.22" y1="678.62" x2="230.22" y2="678.35" stroke="#000" stroke-width="1.3"/>
<line x1="228.32" y1="678.35" x2="232.12" y2="678.35" stroke="#000" stroke-width="1.5"/>
<rect x="226.44" y="678.62" width="7.57" height="37.48" fill="#661166" stroke="#000" stroke-width="1.1"/>
<line x1="248.95" y1="546.64" x2="248.95" y2="542.84" stroke="#000" stroke-width="1.3"/>
<line x1="247.05" y1="542.84" x2="250.85" y2="542.84" stroke="#000" stroke-width="1.5"/>
<rect x="245.17" y="546.64" width="7.57" height="169.46" fill="#9b9bd8" stroke="#000" stroke-width="1.1"/>
<line x1="256.52" y1="553.43" x2="256.52" y2="552.61" stroke="#000" stroke-width="1.3"/>
<line x1="254.62" y1="552.61" x2="258.42" y2="552.61" stroke="#000" stroke-width="1.5"/>
<rect x="252.74" y="553.43" width="7.57" height="162.67" fill="#ffffcc" stroke="#000" stroke-width="1.1"/>
<line x1="264.09" y1="548.54" x2="264.09" y2="548" stroke="#000" stroke-width="1.3"/>
<line x1="262.19" y1="548" x2="265.99" y2="548" stroke="#000" stroke-width="1.5"/>
<rect x="260.3" y="548.54" width="7.57" height="167.56" fill="#ccf2f6" stroke="#000" stroke-width="1.1"/>
<line x1="271.65" y1="548" x2="271.65" y2="547.45" stroke="#000" stroke-width="1.3"/>
<line x1="269.75" y1="547.45" x2="273.55" y2="547.45" stroke="#000" stroke-width="1.5"/>
<rect x="267.87" y="548" width="7.57" height="168.1" fill="#ccf0cc" stroke="#000" stroke-width="1.1"/>
<line x1="279.22" y1="546.1" x2="279.22" y2="545.28" stroke="#000" stroke-width="1.3"/>
<line x1="277.32" y1="545.28" x2="281.12" y2="545.28" stroke="#000" stroke-width="1.5"/>
<rect x="275.44" y="546.1" width="7.57" height="170" fill="#fa8078" stroke="#000" stroke-width="1.1"/>
<line x1="286.79" y1="551.26" x2="286.79" y2="550.71" stroke="#000" stroke-width="1.3"/>
<line x1="284.89" y1="550.71" x2="288.69" y2="550.71" stroke="#000" stroke-width="1.5"/>
<rect x="283" y="551.26" width="7.57" height="164.84" fill="#661166" stroke="#000" stroke-width="1.1"/>
<line x1="362.08" y1="674.82" x2="362.08" y2="671.83" stroke="#000" stroke-width="1.3"/>
<line x1="360.18" y1="671.83" x2="363.98" y2="671.83" stroke="#000" stroke-width="1.5"/>
<rect x="358.29" y="674.82" width="7.57" height="41.28" fill="#9b9bd8" stroke="#000" stroke-width="1.1"/>
<line x1="369.64" y1="668.03" x2="369.64" y2="665.59" stroke="#000" stroke-width="1.3"/>
<line x1="367.74" y1="665.59" x2="371.54" y2="665.59" stroke="#000" stroke-width="1.5"/>
<rect x="365.86" y="668.03" width="7.57" height="48.07" fill="#ffffcc" stroke="#000" stroke-width="1.1"/>
<line x1="377.21" y1="664.5" x2="377.21" y2="661.79" stroke="#000" stroke-width="1.3"/>
<line x1="375.31" y1="661.79" x2="379.11" y2="661.79" stroke="#000" stroke-width="1.5"/>
<rect x="373.43" y="664.5" width="7.57" height="51.6" fill="#ccf2f6" stroke="#000" stroke-width="1.1"/>
<line x1="384.78" y1="665.32" x2="384.78" y2="663.42" stroke="#000" stroke-width="1.3"/>
<line x1="382.88" y1="663.42" x2="386.68" y2="663.42" stroke="#000" stroke-width="1.5"/>
<rect x="380.99" y="665.32" width="7.57" height="50.78" fill="#ccf0cc" stroke="#000" stroke-width="1.1"/>
<line x1="392.34" y1="668.58" x2="392.34" y2="666.95" stroke="#000" stroke-width="1.3"/>
<line x1="390.44" y1="666.95" x2="394.24" y2="666.95" stroke="#000" stroke-width="1.5"/>
<rect x="388.56" y="668.58" width="7.57" height="47.52" fill="#fa8078" stroke="#000" stroke-width="1.1"/>
<line x1="399.91" y1="669.93" x2="399.91" y2="669.39" stroke="#000" stroke-width="1.3"/>
<line x1="398.01" y1="669.39" x2="401.81" y2="669.39" stroke="#000" stroke-width="1.5"/>
<rect x="396.13" y="669.93" width="7.57" height="46.17" fill="#661166" stroke="#000" stroke-width="1.1"/>
<line x1="475.2" y1="706.32" x2="475.2" y2="706.05" stroke="#000" stroke-width="1.3"/>
<line x1="473.3" y1="706.05" x2="477.1" y2="706.05" stroke="#000" stroke-width="1.5"/>
<rect x="471.42" y="706.32" width="7.57" height="9.78" fill="#9b9bd8" stroke="#000" stroke-width="1.1"/>
<line x1="482.77" y1="704.69" x2="482.77" y2="704.42" stroke="#000" stroke-width="1.3"/>
<line x1="480.87" y1="704.42" x2="484.67" y2="704.42" stroke="#000" stroke-width="1.5"/>
<rect x="478.99" y="704.69" width="7.57" height="11.41" fill="#ffffcc" stroke="#000" stroke-width="1.1"/>
<line x1="490.34" y1="705.24" x2="490.34" y2="704.97" stroke="#000" stroke-width="1.3"/>
<line x1="488.44" y1="704.97" x2="492.24" y2="704.97" stroke="#000" stroke-width="1.5"/>
<rect x="486.55" y="705.24" width="7.57" height="10.86" fill="#ccf2f6" stroke="#000" stroke-width="1.1"/>
<line x1="497.9" y1="705.51" x2="497.9" y2="705.24" stroke="#000" stroke-width="1.3"/>
<line x1="496" y1="705.24" x2="499.8" y2="705.24" stroke="#000" stroke-width="1.5"/>
<rect x="494.12" y="705.51" width="7.57" height="10.59" fill="#ccf0cc" stroke="#000" stroke-width="1.1"/>
<line x1="505.47" y1="704.69" x2="505.47" y2="704.42" stroke="#000" stroke-width="1.3"/>
<line x1="503.57" y1="704.42" x2="507.37" y2="704.42" stroke="#000" stroke-width="1.5"/>
<rect x="501.69" y="704.69" width="7.57" height="11.41" fill="#fa8078" stroke="#000" stroke-width="1.1"/>
<line x1="513.04" y1="706.87" x2="513.04" y2="706.6" stroke="#000" stroke-width="1.3"/>
<line x1="511.14" y1="706.6" x2="514.94" y2="706.6" stroke="#000" stroke-width="1.5"/>
<rect x="509.25" y="706.87" width="7.57" height="9.23" fill="#661166" stroke="#000" stroke-width="1.1"/>
<line x1="69.9" y1="525.2" x2="69.9" y2="716.9" stroke="#000" stroke-width="1.6"/>
<line x1="69.1" y1="525.2" x2="523.2" y2="525.2" stroke="#000" stroke-width="1.8"/>
<line x1="522.4" y1="525.2" x2="522.4" y2="716.1" stroke="#000" stroke-width="1.6"/>
<line x1="69.9" y1="716.1" x2="523.2" y2="716.1" stroke="#000" stroke-width="1.5"/>
<line x1="67.4" y1="716.1" x2="69.9" y2="716.1" stroke="#000" stroke-width="1"/>
<text x="63.4" y="720.4" font-size="9.4" text-anchor="end" textLength="4.3" lengthAdjust="spacingAndGlyphs" stroke="#000" stroke-width="0.12">0</text>
<line x1="67.4" y1="688.94" x2="69.9" y2="688.94" stroke="#000" stroke-width="1"/>
<text x="63.4" y="693.24" font-size="9.4" text-anchor="end" textLength="8.4" lengthAdjust="spacingAndGlyphs" stroke="#000" stroke-width="0.12">10</text>
<line x1="67.4" y1="661.79" x2="69.9" y2="661.79" stroke="#000" stroke-width="1"/>
<text x="63.4" y="666.09" font-size="9.4" text-anchor="end" textLength="8.4" lengthAdjust="spacingAndGlyphs" stroke="#000" stroke-width="0.12">20</text>
<line x1="67.4" y1="634.63" x2="69.9" y2="634.63" stroke="#000" stroke-width="1"/>
<text x="63.4" y="638.93" font-size="9.4" text-anchor="end" textLength="8.4" lengthAdjust="spacingAndGlyphs" stroke="#000" stroke-width="0.12">30</text>
<line x1="67.4" y1="607.47" x2="69.9" y2="607.47" stroke="#000" stroke-width="1"/>
<text x="63.4" y="611.77" font-size="9.4" text-anchor="end" textLength="8.4" lengthAdjust="spacingAndGlyphs" stroke="#000" stroke-width="0.12">40</text>
<line x1="67.4" y1="580.31" x2="69.9" y2="580.31" stroke="#000" stroke-width="1"/>
<text x="63.4" y="584.61" font-size="9.4" text-anchor="end" textLength="8.4" lengthAdjust="spacingAndGlyphs" stroke="#000" stroke-width="0.12">50</text>
<line x1="67.4" y1="553.16" x2="69.9" y2="553.16" stroke="#000" stroke-width="1"/>
<text x="63.4" y="557.46" font-size="9.4" text-anchor="end" textLength="8.4" lengthAdjust="spacingAndGlyphs" stroke="#000" stroke-width="0.12">60</text>
<line x1="67.4" y1="526" x2="69.9" y2="526" stroke="#000" stroke-width="1"/>
<text x="63.4" y="530.3" font-size="9.4" text-anchor="end" textLength="8.4" lengthAdjust="spacingAndGlyphs" stroke="#000" stroke-width="0.12">70</text>
<line x1="126.46" y1="716.1" x2="126.46" y2="718.6" stroke="#000" stroke-width="1"/>
<line x1="183.03" y1="716.1" x2="183.03" y2="718.6" stroke="#000" stroke-width="1"/>
<line x1="239.59" y1="716.1" x2="239.59" y2="718.6" stroke="#000" stroke-width="1"/>
<line x1="296.15" y1="716.1" x2="296.15" y2="718.6" stroke="#000" stroke-width="1"/>
<line x1="352.71" y1="716.1" x2="352.71" y2="718.6" stroke="#000" stroke-width="1"/>
<line x1="409.27" y1="716.1" x2="409.27" y2="718.6" stroke="#000" stroke-width="1"/>
<line x1="465.84" y1="716.1" x2="465.84" y2="718.6" stroke="#000" stroke-width="1"/>
<line x1="522.4" y1="716.1" x2="522.4" y2="718.6" stroke="#000" stroke-width="1"/>
<text x="98.7" y="732.1" font-size="10.2" text-anchor="middle" stroke="#000" stroke-width="0.12">TAG</text>
<text x="155.05" y="732.1" font-size="10.2" text-anchor="middle" stroke="#000" stroke-width="0.12">DAG</text>
<text x="212.05" y="732.1" font-size="10.2" text-anchor="middle" stroke="#000" stroke-width="0.12">CE</text>
<text x="267.7" y="732.1" font-size="10.2" text-anchor="middle" stroke="#000" stroke-width="0.12">PC</text>
<text x="324.3" y="732.1" font-size="10.2" text-anchor="middle" textLength="24.4" lengthAdjust="spacing" stroke="#000" stroke-width="0.12">PCO-</text>
<text x="380.45" y="732.1" font-size="10.2" text-anchor="middle" stroke="#000" stroke-width="0.12">PE</text>
<text x="436.9" y="732.1" font-size="10.2" text-anchor="middle" textLength="24.4" lengthAdjust="spacing" stroke="#000" stroke-width="0.12">PEO-</text>
<text x="495.05" y="732.1" font-size="10.2" text-anchor="middle" stroke="#000" stroke-width="0.12">SM</text>
<rect x="70.8" y="526.4" width="62.2" height="71" fill="#fff"/>
<rect x="74.7" y="531.6" width="5.4" height="5.4" fill="#9b9bd8" stroke="#000" stroke-width="1.1"/>
<text x="81.9" y="537.6" font-size="7.8" text-anchor="start" textLength="33.3" lengthAdjust="spacingAndGlyphs" stroke="#000" stroke-width="0.12">untreated</text>
<rect x="74.7" y="542.9" width="5.4" height="5.4" fill="#ffffcc" stroke="#000" stroke-width="1.1"/>
<text x="81.9" y="548.9" font-size="7.8" text-anchor="start" textLength="19.3" lengthAdjust="spacingAndGlyphs" stroke="#000" stroke-width="0.12">mock</text>
<rect x="74.7" y="554.2" width="5.4" height="5.4" fill="#ccf2f6" stroke="#000" stroke-width="1.1"/>
<text x="81.9" y="560.2" font-size="7.8" text-anchor="start" textLength="48" lengthAdjust="spacingAndGlyphs" stroke="#000" stroke-width="0.12">scrambled #5</text>
<rect x="74.7" y="565.5" width="5.4" height="5.4" fill="#ccf0cc" stroke="#000" stroke-width="1.1"/>
<text x="81.9" y="571.5" font-size="7.8" text-anchor="start" textLength="48" lengthAdjust="spacingAndGlyphs" stroke="#000" stroke-width="0.12">scrambled #6</text>
<rect x="74.7" y="576.8" width="5.4" height="5.4" fill="#fa8078" stroke="#000" stroke-width="1.1"/>
<text x="81.9" y="582.8" font-size="7.8" text-anchor="start" textLength="36.6" lengthAdjust="spacingAndGlyphs" stroke="#000" stroke-width="0.12">siRNA1#1</text>
<rect x="74.7" y="588.1" width="5.4" height="5.4" fill="#661166" stroke="#000" stroke-width="1.1"/>
<text x="81.9" y="594.1" font-size="7.8" text-anchor="start" textLength="36.8" lengthAdjust="spacingAndGlyphs" stroke="#000" stroke-width="0.12">siRNA1#3</text>
<text x="256.4" y="535.8" font-size="11.2" text-anchor="start" textLength="56" lengthAdjust="spacingAndGlyphs" stroke="#000" stroke-width="0.12">HuH7 cells</text>
<text transform="translate(44.3,627.6) rotate(-90)" font-size="11.6" text-anchor="middle" textLength="118.5" lengthAdjust="spacingAndGlyphs" stroke="#000" stroke-width="0.12">mol% of monitored lipids</text>
</svg></body></html>
